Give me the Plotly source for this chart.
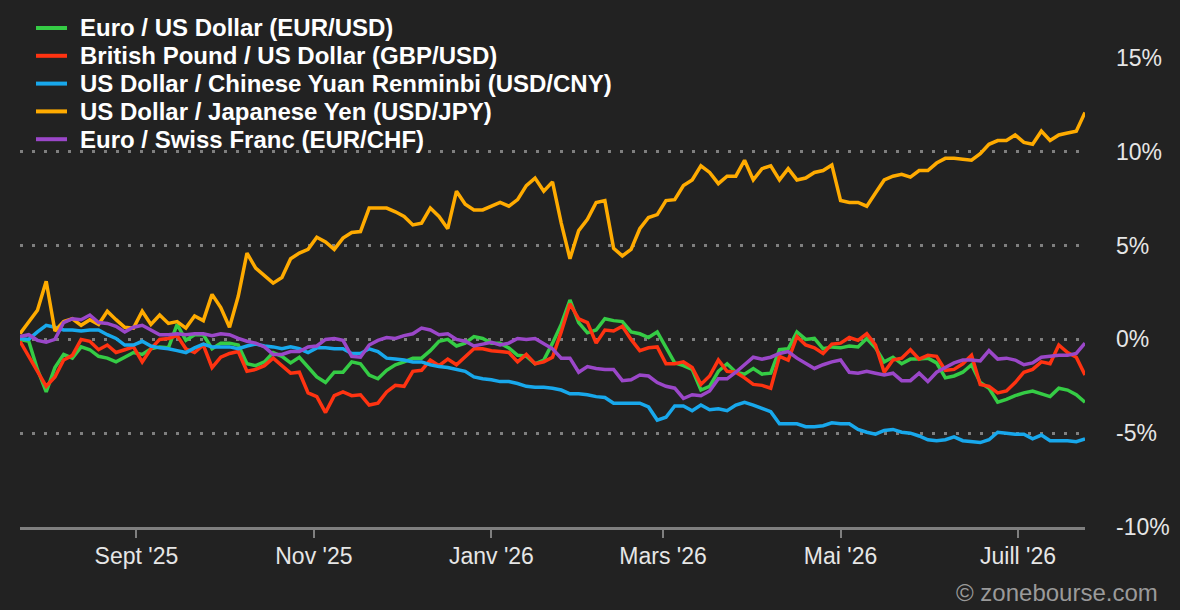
import pandas as pd
import plotly.graph_objects as go

# ---- data (percent change since start), sampled every 3 days ----
start_date = "2025-07-23"
n_points = 123
dates = pd.date_range(start_date, periods=n_points, freq="3D")

eur_usd = [0.0, -0.1, -1.6, -2.8, -1.5, -0.8, -1.0, -0.4, -0.55, -0.9,
           -1.0, -1.2, -0.95, -0.7, -0.8, -0.5, -0.4, -0.45, 0.8, -0.05,
           0.25, 0.25, -0.5, -0.2, -0.2, -0.3, -1.3, -1.4, -1.2, -0.7,
           -0.9, -1.25, -0.95, -1.5, -2.0, -2.3, -1.75, -1.75, -1.2, -1.3,
           -1.9, -2.1, -1.65, -1.35, -1.2, -1.0, -1.0, -0.6, -0.1, 0.0,
           -0.35, -0.2, 0.15, 0.05, -0.2, -0.2, -0.45, -0.85, -0.9, -1.3,
           -1.1, -0.2, 0.8, 2.1, 0.9, 0.35, 0.5, 1.1, 1.0, 0.95,
           0.4, 0.3, 0.1, 0.4, -0.4, -1.25, -1.4, -1.6, -2.7, -2.5,
           -1.7, -1.3, -1.75, -1.85, -1.55, -1.85, -1.8, -0.55, -0.5, 0.4,
           0.0, 0.05, -0.5, -0.4, -0.45, -0.35, -0.4, 0.05, -0.45, -1.2,
           -0.95, -1.3, -1.05, -1.05, -1.0, -1.25, -2.05, -1.95, -1.75, -1.35,
           -2.3, -2.6, -3.35, -3.2, -3.0, -2.85, -2.75, -2.9, -3.05, -2.6,
           -2.7, -2.95, -3.35]

gbp_usd = [-0.1, -0.9, -1.75, -2.5, -2.0, -1.1, -0.85, 0.0, -0.1, -0.55,
           -0.3, -0.7, -0.55, -0.4, -1.2, -0.5, 0.0, 0.05, 0.2, -0.5,
           -0.7, -0.3, -1.5, -0.95, -0.75, -0.65, -1.7, -1.6, -1.4, -1.0,
           -1.4, -1.8, -1.75, -2.85, -3.05, -3.9, -3.0, -2.8, -3.0, -2.95,
           -3.5, -3.4, -2.8, -2.45, -2.5, -1.7, -1.65, -1.1, -1.4, -1.05,
           -1.35, -0.9, -0.5, -0.5, -0.6, -0.65, -0.7, -1.2, -0.8, -1.3,
           -1.2, -0.95, 0.4, 1.9, 1.1, 0.9, -0.2, 0.5, 0.45, 0.7,
           0.0, -0.6, -0.45, -0.4, -1.3, -1.3, -1.2, -1.5, -2.4, -1.95,
           -1.1, -1.7, -1.75, -2.05, -2.4, -2.45, -2.6, -0.9, -1.1, 0.15,
           -0.3, -0.45, -0.75, -0.25, -0.2, 0.1, -0.05, 0.3, -0.3, -1.75,
           -1.1, -1.0, -0.55, -1.05, -0.85, -0.9, -1.65, -1.6, -1.3, -0.85,
           -2.4, -2.5, -2.85, -2.75, -2.3, -1.75, -1.6, -1.2, -1.3, -0.3,
           -0.7, -0.95, -1.9]

usd_cny = [0.05, 0.0, 0.4, 0.75, 0.65, 0.5, 0.5, 0.45, 0.5, 0.5,
           0.25, 0.05, -0.3, -0.3, -0.1, -0.35, -0.45, -0.5, -0.6, -0.7,
           -0.45, -0.25, -0.4, -0.4, -0.4, -0.5, -0.35, -0.25, -0.35, -0.4,
           -0.5, -0.4, -0.5, -0.7, -0.45, -0.45, -0.5, -0.5, -0.75, -0.75,
           -0.5, -0.65, -1.0, -1.05, -1.1, -1.2, -1.2, -1.35, -1.45, -1.5,
           -1.6, -1.7, -2.0, -2.1, -2.15, -2.25, -2.25, -2.35, -2.5, -2.55,
           -2.55, -2.6, -2.7, -2.9, -2.9, -2.95, -3.05, -3.1, -3.4, -3.4,
           -3.4, -3.4, -3.6, -4.3, -4.15, -3.55, -3.55, -3.8, -3.5, -3.75,
           -3.7, -3.8, -3.5, -3.35, -3.5, -3.7, -3.85, -4.5, -4.5, -4.5,
           -4.65, -4.65, -4.6, -4.45, -4.5, -4.5, -4.8, -4.95, -5.05, -4.85,
           -4.8, -4.95, -5.0, -5.15, -5.35, -5.4, -5.35, -5.2, -5.4, -5.45,
           -5.5, -5.35, -4.95, -5.0, -5.05, -5.05, -5.3, -5.1, -5.4, -5.4,
           -5.4, -5.45, -5.3]

usd_jpy = [0.3, 0.95, 1.55, 3.1, 0.45, 0.95, 1.1, 0.75, 1.05, 0.8,
           1.5, 1.05, 0.65, 0.6, 1.5, 0.8, 1.3, 0.85, 0.95, 0.6,
           1.25, 1.0, 2.4, 1.7, 0.65, 2.3, 4.6, 3.8, 3.4, 3.0,
           3.3, 4.3, 4.6, 4.8, 5.45, 5.2, 4.8, 5.4, 5.7, 5.75,
           7.0, 7.0, 7.0, 6.8, 6.55, 6.1, 6.2, 7.0, 6.55, 5.9,
           7.9, 7.2, 6.9, 6.9, 7.1, 7.3, 7.1, 7.45, 8.2, 8.6,
           7.9, 8.4, 6.2, 4.3, 5.8, 6.4, 7.3, 7.4, 4.85, 4.45,
           4.8, 5.9, 6.5, 6.65, 7.4, 7.45, 8.2, 8.5, 9.25, 8.9,
           8.3, 8.7, 8.7, 9.55, 8.5, 9.1, 9.25, 8.5, 9.1, 8.5,
           8.6, 8.9, 9.0, 9.3, 7.4, 7.3, 7.3, 7.1, 7.8, 8.5,
           8.7, 8.8, 8.65, 9.0, 9.0, 9.4, 9.65, 9.65, 9.6, 9.55,
           9.9, 10.4, 10.6, 10.6, 10.9, 10.5, 10.4, 11.1, 10.6, 10.9,
           11.0, 11.1, 12.1]

eur_chf = [0.15, 0.25, -0.05, -0.15, 0.0, 0.9, 1.1, 1.05, 1.3, 0.9,
           0.85, 0.7, 0.4, 0.65, 0.75, 0.5, 0.25, 0.25, 0.3, 0.25,
           0.3, 0.3, 0.2, 0.3, 0.25, 0.05, -0.1, -0.2, -0.4, -0.8,
           -0.8, -0.65, -0.65, -0.4, -0.35, 0.0, 0.05, -0.05, -0.9, -0.95,
           -0.3, -0.05, 0.1, 0.05, 0.2, 0.3, 0.6, 0.5, 0.25, 0.3,
           0.0, -0.1, -0.35, -0.25, -0.15, -0.3, -0.2, 0.05, 0.0, 0.05,
           -0.25, -0.5, -1.0, -1.0, -1.75, -1.45, -1.55, -1.6, -1.6, -2.2,
           -2.15, -1.9, -1.95, -2.3, -2.5, -2.6, -3.15, -2.95, -3.0, -2.75,
           -2.1, -2.1, -1.75, -1.35, -0.95, -1.05, -0.95, -0.75, -0.65, -1.0,
           -1.3, -1.55, -1.35, -1.2, -1.1, -1.75, -1.8, -1.7, -1.8, -1.9,
           -1.8, -2.2, -2.2, -1.8, -2.25, -1.75, -1.5, -1.25, -1.1, -1.1,
           -1.15, -0.6, -1.05, -1.0, -1.1, -1.35, -1.25, -0.95, -0.9, -0.85,
           -0.85, -0.75, -0.2]

series_names = [
    "Euro / US Dollar (EUR/USD)",
    "British Pound / US Dollar (GBP/USD)",
    "US Dollar / Chinese Yuan Renminbi (USD/CNY)",
    "US Dollar / Japanese Yen (USD/JPY)",
    "Euro / Swiss Franc (EUR/CHF)",
]
series_values = [eur_usd, gbp_usd, usd_cny, usd_jpy, eur_chf]
series_colors = ["#35cc45", "#ff3311", "#18a8ec", "#ffab00", "#9b47c9"]

tick_dates = ["2025-09-01", "2025-11-01", "2026-01-01", "2026-03-01", "2026-05-01", "2026-07-01"]
tick_labels = ["Sept '25", "Nov '25", "Janv '26", "Mars '26", "Mai '26", "Juill '26"]
y_ticks = [-10, -5, 0, 5, 10, 15]
y_labels = ["-10%", "-5%", "0%", "5%", "10%", "15%"]

BG = "#222222"
GRID = "#7f7f7f"
FONT = "Liberation Sans, Arial, sans-serif"

# layout geometry (pixels)
W, H = 1180, 610
ML, MR, MT, MB = 20, 95, 58, 83
PW, PH = W - ML - MR, H - MT - MB


def px_x(px):
    return (px - ML) / PW


def px_y(py):
    return (H - MB - py) / PH


fig = go.Figure()
for name, vals, col in zip(series_names, series_values, series_colors):
    fig.add_trace(go.Scatter(
        x=dates, y=vals, mode="lines", name=name,
        line=dict(color=col, width=3.5), showlegend=False,
    ))

# legend drawn as text + line samples (top-left, over the plot)
legend_row_y = [28, 55.8, 83.6, 111.4, 139.2]
for name, col, ry in zip(series_names, series_colors, legend_row_y):
    fig.add_shape(type="line", xref="paper", yref="paper",
                  x0=px_x(36), x1=px_x(67), y0=px_y(ry), y1=px_y(ry),
                  line=dict(color=col, width=4))
    fig.add_annotation(text=name, xref="paper", yref="paper",
                       x=px_x(78), y=px_y(ry), xanchor="left", yanchor="middle",
                       showarrow=False,
                       font=dict(family=FONT, size=24, color="#ffffff", weight="bold"))

fig.update_layout(
    width=W, height=H,
    paper_bgcolor=BG, plot_bgcolor=BG,
    margin=dict(l=ML, r=MR, t=MT, b=MB, autoexpand=False),
    font=dict(family=FONT, color="#e6e6e6"),
    showlegend=False,
    xaxis=dict(
        type="date",
        range=["2025-07-23", "2026-07-24"],
        tickvals=tick_dates, ticktext=tick_labels, tickangle=0,
        showgrid=False, zeroline=False,
        showline=True, linecolor=GRID, linewidth=3,
        ticks="outside", ticklen=8, tickwidth=2, tickcolor=GRID,
        tickfont=dict(size=23, color="#e6e6e6"),
        ticklabelstandoff=-2,
    ),
    yaxis=dict(
        side="right",
        range=[-10, 15],
        tickvals=y_ticks, ticktext=y_labels,
        showgrid=True, gridcolor=GRID, gridwidth=3, griddash="3px,9px",
        zeroline=False, showline=False,
        ticks="", tickfont=dict(size=23, color="#e6e6e6"),
        ticklabelstandoff=30,
    ),
)

fig.add_annotation(
    text="© zonebourse.com", xref="paper", yref="paper",
    x=px_x(1160), y=px_y(592), xanchor="right", yanchor="middle",
    showarrow=False, font=dict(family=FONT, size=24, color="#9a9a9a"),
)

fig.write_html("out.html")
